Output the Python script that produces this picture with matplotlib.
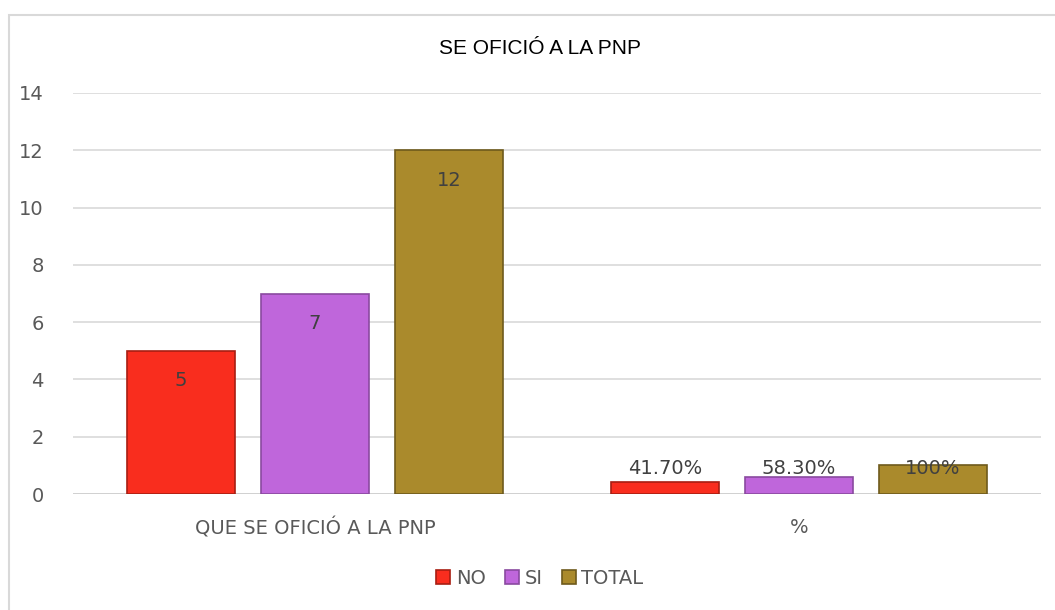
import numpy as np
import matplotlib
matplotlib.use("Agg")
import matplotlib.pyplot as plt
from matplotlib.patches import Rectangle

# datos
categorias = ["QUE SE OFICIÓ A LA PNP", "%"]
series = ["NO", "SI", "TOTAL"]
valores_no = [5, 0.417]
valores_si = [7, 0.583]
valores_total = [12, 1.0]
etiquetas_no = ["5", "41.70%"]
etiquetas_si = ["7", "58.30%"]
etiquetas_total = ["12", "100%"]
colores = ["#F92D1E", "#BF66DB", "#AA8A2C"]
bordes = ["#A81E12", "#8A4AA0", "#6E5A1C"]

plt.rcParams["font.family"] = ["DejaVu Sans"]

fig = plt.figure(figsize=(10.55, 6.1), dpi=100)
ax = fig.add_axes([73 / 1055, 1 - 494 / 610, (1041 - 73) / 1055, (494 - 93) / 610])

# marco del grafico
fig.patches.append(Rectangle((9 / 1055, -0.1), 1.2, 1 - 15 / 610 + 0.1,
                             transform=fig.transFigure, fill=False,
                             edgecolor="#D9D9D9", linewidth=1.5))

x = np.arange(len(categorias))
ancho = 0.223
paso = 0.277
datos = [valores_no, valores_si, valores_total]
etiquetas = [etiquetas_no, etiquetas_si, etiquetas_total]

for i, (vals, labs) in enumerate(zip(datos, etiquetas)):
    pos = x + (i - 1) * paso
    ax.bar(pos, vals, width=ancho, color=colores[i], edgecolor=bordes[i],
           linewidth=1.2, label=series[i], zorder=3)
    for p, v, t in zip(pos, vals, labs):
        ax.text(p, max(v - 1.05, 0.9), t, ha="center", va="center",
                fontsize=14, color="#404040", zorder=4)

ax.set_xlim(-0.5, 1.5)
ax.set_ylim(0, 14)
ax.set_yticks(range(0, 15, 2))
ax.set_xticks(x)
ax.set_xticklabels(categorias)
ax.grid(axis="y", color="#D9D9D9", linewidth=1.2, zorder=0)
ax.axhline(0, color="#D0D0D0", linewidth=2, zorder=2)
for s in ax.spines.values():
    s.set_visible(False)
ax.tick_params(length=0, labelsize=14, labelcolor="#595959")
ax.tick_params(axis="x", pad=17)
ax.tick_params(axis="y", pad=21)

fig.text(540 / 1055, 1 - 49 / 610, "SE OFICIÓ A LA PNP", ha="center", va="center",
         fontsize=15, color="#000000", family="Liberation Sans")

fig.legend(loc="center", bbox_to_anchor=(540 / 1055, 1 - 578 / 610), ncol=3,
           frameon=False, fontsize=14, handlelength=0.7, handleheight=0.7,
           handletextpad=0.3, columnspacing=1.0, labelcolor="#595959")

fig.savefig("out.png", dpi=100)
